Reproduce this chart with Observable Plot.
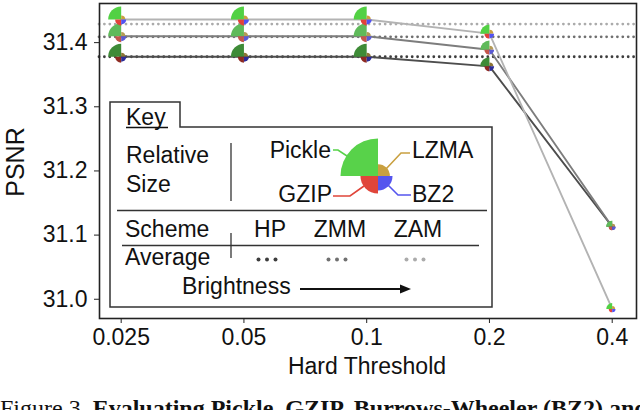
<!DOCTYPE html>
<html><head><meta charset="utf-8">
<script src="https://cdn.jsdelivr.net/npm/d3@7"></script>
<script src="https://cdn.jsdelivr.net/npm/@observablehq/plot@0.6"></script>
<style>body{margin:0;background:#fff;}</style>
</head><body><div id="chart"></div>
<script>
// ---- data ----
const thresholds = [0.025, 0.05, 0.1, 0.2, 0.4];
const thresholdLabels = ["0.025", "0.05", "0.1", "0.2", "0.4"];
const schemes = ["HP", "ZMM", "ZAM"];
const psnrHP  = [31.378, 31.378, 31.378, 31.363, 31.113];
const psnrZMM = [31.410, 31.410, 31.410, 31.389, 31.113];
const psnrZAM = [31.436, 31.436, 31.436, 31.414, 30.985];
const averagePSNR = [31.378, 31.409, 31.429]; // HP, ZMM, ZAM
const codecs = ["Pickle", "LZMA", "GZIP", "BZ2"];
// relative compressed size (Pickle at 0.025 = 1)
const sizePickle = [1.00, 1.00, 1.00, 0.50, 0.21];
const sizeLZMA   = [0.10, 0.10, 0.10, 0.09, 0.05];
const sizeGZIP   = [0.22, 0.22, 0.22, 0.15, 0.07];
const sizeBZ2    = [0.15, 0.15, 0.15, 0.13, 0.065];
const yTicks = [31.0, 31.1, 31.2, 31.3, 31.4];

// ---- styles ----
const lineColor = {HP: "#4d4d4d", ZMM: "#7d7d7d", ZAM: "#b3b3b3"};
const avgColor  = {HP: "#3d3d3d", ZMM: "#707070", ZAM: "#ababab"};
const codecColor = {
  HP:  {Pickle: "#3e8b37", LZMA: "#8c7434", GZIP: "#8e2a22", BZ2: "#2c2c98"},
  ZMM: {Pickle: "#5fba5a", LZMA: "#b49a55", GZIP: "#c4564c", BZ2: "#5b5bd4"},
  ZAM: {Pickle: "#52d144", LZMA: "#c9a040", GZIP: "#e2423a", BZ2: "#5252f2"}
};
const keyColor = {Pickle: "#58d24a", LZMA: "#c9a040", GZIP: "#e0453a", BZ2: "#5555ee"};
const FONT = "'Liberation Sans', Arial, Helvetica, sans-serif";

const psnrBy = {HP: psnrHP, ZMM: psnrZMM, ZAM: psnrZAM};
const sizeBy = {Pickle: sizePickle, LZMA: sizeLZMA, GZIP: sizeGZIP, BZ2: sizeBZ2};
const rows = [];
for (const s of schemes) thresholds.forEach((t, j) => {
  const row = {scheme: s, threshold: t, psnr: psnrBy[s][j]};
  for (const c of codecs) row[c] = sizeBy[c][j];
  rows.push(row);
});
const avgRows = schemes.map((s, i) => ({scheme: s, avg: averagePSNR[i]}));

// quarter-wedge symbol, a0 = start angle (radians from +x, clockwise on screen)
const quarter = (a0) => ({
  draw(ctx, size) {
    const r = Math.sqrt(size / Math.PI);
    ctx.moveTo(0, 0);
    ctx.arc(0, 0, r, a0, a0 + Math.PI / 2);
    ctx.closePath();
  }
});
const codecAngle = {Pickle: Math.PI, LZMA: 1.5 * Math.PI, BZ2: 0, GZIP: 0.5 * Math.PI};

const svg = Plot.plot({
  width: 640, height: 410,
  marginLeft: 99, marginRight: 4, marginTop: 3, marginBottom: 92,
  style: `font-family:${FONT};font-size:23px;color:#111;background:#fff;`,
  x: {type: "log", domain: [0.02212, 0.4588]},
  y: {domain: [30.970, 31.461]},
  r: {type: "sqrt", domain: [0, 1], range: [0, 13]},
  color: {type: "identity"},
  marks: [
    Plot.ruleY(avgRows, {y: "avg", stroke: d => avgColor[d.scheme], strokeWidth: 2.8,
      strokeDasharray: "0,5.4", strokeLinecap: "round"}),
    Plot.line(rows, {x: "threshold", y: "psnr", z: "scheme", stroke: d => lineColor[d.scheme], strokeWidth: 1.9}),
    ...codecs.map(c => Plot.dot(rows, {x: "threshold", y: "psnr", r: c, symbol: quarter(codecAngle[c]),
      fill: d => codecColor[d.scheme][c], stroke: "none"})),
    Plot.frame({stroke: "#222", strokeWidth: 1.6}),
    Plot.axisX(thresholds, {tickFormat: d => thresholdLabels[thresholds.indexOf(d)], tickSize: 5, tickPadding: 5,
      label: null, fontSize: 23, stroke: "#222"}),
    Plot.axisY(yTicks, {tickFormat: d => d.toFixed(1), tickSize: 5, tickPadding: 7, label: null, fontSize: 23, stroke: "#222"})
  ]
});
document.getElementById("chart").appendChild(svg);

// ---- axis titles, key and caption ----
const g = d3.select(svg).append("g").attr("font-family", FONT).attr("fill", "#111").attr("text-anchor", "start");
g.append("text").attr("transform", "translate(24,162) rotate(-90)").attr("text-anchor", "middle")
  .attr("font-size", 25).text("PSNR");
g.append("text").attr("x", 367).attr("y", 374).attr("text-anchor", "middle").attr("font-size", 23).text("Hard Threshold");

const key = g.append("g");
key.append("path").attr("d", "M110,307V102H180V127H492V307Z").attr("fill", "#fff").attr("stroke", "#333").attr("stroke-width", 1.5);
const T = (x, y, s, anchor = "start") => key.append("text").attr("x", x).attr("y", y).attr("text-anchor", anchor).attr("font-size", 23).text(s);
T(126, 125, "Key");
key.append("line").attr("x1", 126).attr("x2", 168).attr("y1", 127.5).attr("y2", 127.5).attr("stroke", "#111").attr("stroke-width", 1.3);
T(126, 163, "Relative");
T(126, 192, "Size");
key.append("line").attr("x1", 231).attr("x2", 231).attr("y1", 143).attr("y2", 201).attr("stroke", "#333").attr("stroke-width", 1.3);

// key glyph (scaled from sizes at the first threshold)
const kc = [378, 176], kR = 37.5;
const arc = d3.arc().innerRadius(0);
const keyStart = {Pickle: -Math.PI / 2, LZMA: 0, BZ2: Math.PI / 2, GZIP: Math.PI};
for (const c of codecs) {
  const r = kR * Math.sqrt(sizeBy[c][0] / sizePickle[0]);
  key.append("path").attr("transform", `translate(${kc})`)
    .attr("d", arc({outerRadius: r, startAngle: keyStart[c], endAngle: keyStart[c] + Math.PI / 2}))
    .attr("fill", keyColor[c]);
}
const leader = (pts, color) => key.append("polyline").attr("points", pts.map(p => p.join(",")).join(" "))
  .attr("fill", "none").attr("stroke", color).attr("stroke-width", 1.6);
leader([[333, 150], [338, 150], [350, 158]], keyColor.Pickle);
leader([[386, 169], [401, 153], [410, 153]], keyColor.LZMA);
leader([[333, 196], [350, 196], [364, 186]], keyColor.GZIP);
leader([[388, 185], [398, 195], [411, 195]], keyColor.BZ2);
T(331, 158, "Pickle", "end");
T(412, 158, "LZMA");
T(332, 202, "GZIP", "end");
T(412, 202, "BZ2");

key.append("line").attr("x1", 117).attr("x2", 487).attr("y1", 210.5).attr("y2", 210.5).attr("stroke", "#333").attr("stroke-width", 1.3);
T(125, 237, "Scheme");
const schemeX = {HP: 270, ZMM: 340, ZAM: 418};
for (const s of schemes) {
  T(schemeX[s], 237, s, "middle");
  for (const dx of [-8.5, 0, 8.5]) key.append("circle").attr("cx", schemeX[s] - 3 + dx).attr("cy", 259.5).attr("r", 2).attr("fill", avgColor[s]);
}
key.append("line").attr("x1", 122).attr("x2", 479).attr("y1", 245.5).attr("y2", 245.5).attr("stroke", "#333").attr("stroke-width", 1.3);
key.append("line").attr("x1", 231).attr("x2", 231).attr("y1", 233).attr("y2", 258).attr("stroke", "#333").attr("stroke-width", 1.3);
T(125, 265, "Average");
T(182, 294, "Brightness");
key.append("line").attr("x1", 300).attr("x2", 402).attr("y1", 289).attr("y2", 289).attr("stroke", "#111").attr("stroke-width", 1.8);
key.append("path").attr("d", "M411,289L400,284.5V293.5Z").attr("fill", "#111");

// caption (cut off by the bottom edge, as in the reference)
const cap = g.append("text").attr("x", 0).attr("y", 416).attr("text-anchor", "start")
  .attr("font-family", "'Liberation Serif', 'Times New Roman', serif").attr("font-size", 24);
cap.append("tspan").text("Figure 3. ");
cap.append("tspan").attr("font-weight", "bold").text("Evaluating Pickle, GZIP, Burrows-Wheeler (BZ2) and");
</script></body></html>
